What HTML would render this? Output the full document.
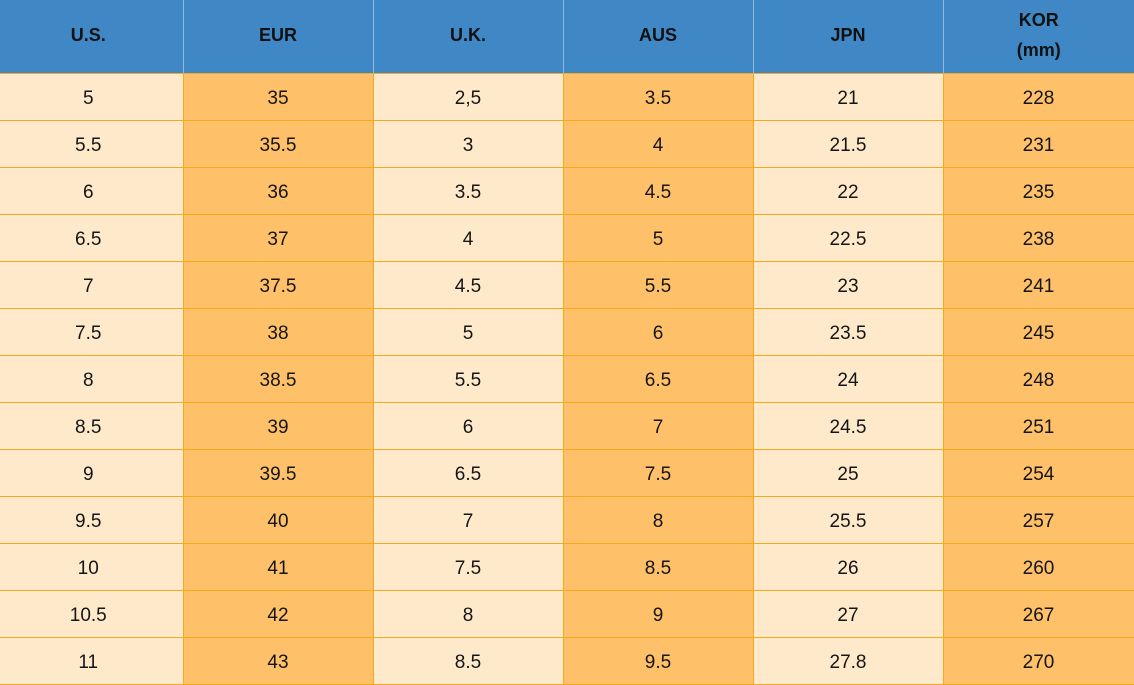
<!DOCTYPE html>
<html><head><style>
body{margin:0;width:1134px;height:683px;overflow:hidden;background:#fff;font-family:"Liberation Sans",sans-serif;}
table{border-collapse:collapse;table-layout:fixed;position:absolute;left:0;top:0;width:1134px;}
th{background:#3f88c5;color:#111;font-weight:bold;font-size:18px;height:69px;padding:0 0 4px 0;border-left:1px solid #8fb8e0;line-height:30px;}
th:first-child{border-left:none;padding-right:6px}
td{height:43px;padding:3px 0 0 0;text-align:center;font-size:19px;color:#151515;border:1px solid #f6a91c;border-top:none;}
td:first-child{border-left:none;padding-right:6px}
td:nth-child(odd){background:#feeacb}
td:nth-child(even){background:#fec068}
tr.f td{border-top:1px solid #f6a91c}
</style></head><body>
<table>
<colgroup><col style="width:183px"><col style="width:190px"><col style="width:190px"><col style="width:190px"><col style="width:190px"><col style="width:191px"></colgroup>
<tr><th>U.S.</th><th>EUR</th><th>U.K.</th><th>AUS</th><th>JPN</th><th>KOR<br>(mm)</th></tr>
<tr class="f"><td>5</td><td>35</td><td>2,5</td><td>3.5</td><td>21</td><td>228</td></tr>
<tr><td>5.5</td><td>35.5</td><td>3</td><td>4</td><td>21.5</td><td>231</td></tr>
<tr><td>6</td><td>36</td><td>3.5</td><td>4.5</td><td>22</td><td>235</td></tr>
<tr><td>6.5</td><td>37</td><td>4</td><td>5</td><td>22.5</td><td>238</td></tr>
<tr><td>7</td><td>37.5</td><td>4.5</td><td>5.5</td><td>23</td><td>241</td></tr>
<tr><td>7.5</td><td>38</td><td>5</td><td>6</td><td>23.5</td><td>245</td></tr>
<tr><td>8</td><td>38.5</td><td>5.5</td><td>6.5</td><td>24</td><td>248</td></tr>
<tr><td>8.5</td><td>39</td><td>6</td><td>7</td><td>24.5</td><td>251</td></tr>
<tr><td>9</td><td>39.5</td><td>6.5</td><td>7.5</td><td>25</td><td>254</td></tr>
<tr><td>9.5</td><td>40</td><td>7</td><td>8</td><td>25.5</td><td>257</td></tr>
<tr><td>10</td><td>41</td><td>7.5</td><td>8.5</td><td>26</td><td>260</td></tr>
<tr><td>10.5</td><td>42</td><td>8</td><td>9</td><td>27</td><td>267</td></tr>
<tr><td>11</td><td>43</td><td>8.5</td><td>9.5</td><td>27.8</td><td>270</td></tr>
</table>
</body></html>
